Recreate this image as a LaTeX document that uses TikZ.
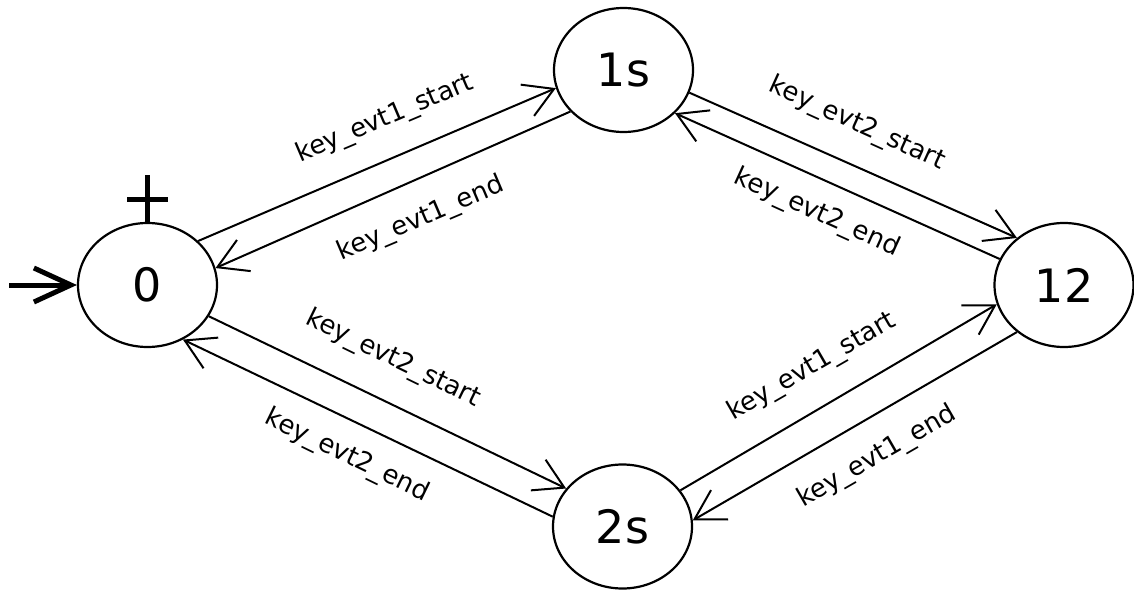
\documentclass[tikz,border=0pt]{standalone}
\usepackage{fontspec}
\setmainfont{DejaVu Sans}
\usetikzlibrary{arrows.meta,shapes.geometric}
\begin{document}
\begin{tikzpicture}[x=1pt,y=-1pt,
  state/.style={ellipse, draw, line width=2.2pt, minimum width=139pt, minimum height=124pt, inner sep=0pt, font=\fontsize{46}{50}\selectfont},
  trans/.style={line width=2pt, -{Straight Barb[length=29pt,width=34pt]}},
  lbl/.style={font=\fontsize{26}{30}\selectfont, inner sep=0pt},
  init/.style={line width=5pt, -{Straight Barb[length=37pt,width=34pt]}},
  plusline/.style={line width=5pt},
]
\useasboundingbox (0,0) rectangle (1134,591);
\node[state] (n0) at (147.5,285) {0};
\node[state] (n1) at (623.5,70) {1s};
\node[state] (n12) at (1064,285) {12};
\node[state] (n2) at (622.5,526.5) {2s};

\draw[trans] (n0.41.7) -- (n1.195);
\draw[trans] (n1.218) -- (n0.14);
\draw[trans] (n1.341.7) -- (n12.135.7);
\draw[trans] (n12.158.7) -- (n1.320.2);
\draw[trans] (n0.333.6) -- (n2.146.7);
\draw[trans] (n2.172.3) -- (n0.303.1);
\draw[trans] (n2.32.4) -- (n12.196.4);
\draw[trans] (n12.225.6) -- (n2.5);

\node[lbl, rotate=23] (l1) at (385,119) {key\_evt1\_start};
\node[lbl, rotate=23] (l2) at (421,219) {key\_evt1\_end};
\node[lbl, rotate=-24.4] (l3) at (857,124) {key\_evt2\_start};
\node[lbl, rotate=-24.4] (l4) at (817,213) {key\_evt2\_end};
\node[lbl, rotate=-26] (l5) at (393,359) {key\_evt2\_start};
\node[lbl, rotate=-26] (l6) at (347,456) {key\_evt2\_end};
\node[lbl, rotate=30] (l7) at (812,367) {key\_evt1\_start};
\node[lbl, rotate=30] (l8) at (877,457) {key\_evt1\_end};

\coordinate (i0) at (9,285);
\draw[init] (i0) -- (n0.west);
\draw[plusline] (n0.north) -- ++(0,-47);
\coordinate (pl) at (127,199);
\coordinate (pr) at (168,199);
\draw[plusline] (pl) -- (pr);
\end{tikzpicture}
\end{document}
